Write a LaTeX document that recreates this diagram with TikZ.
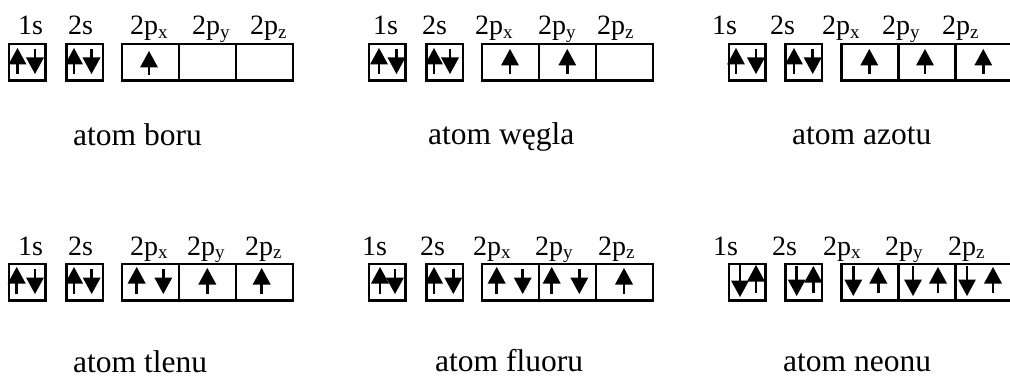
\documentclass[tikz,border=0pt]{standalone}
\usepackage{fontspec}
\setmainfont{Liberation Serif}
\newcommand\sub[1]{\raisebox{-0.25ex}{\fontsize{19}{19}\selectfont #1}}
% up arrow: x, apex y, tail y
\newcommand\arrup[3]{%
  \fill (#1-1.3,#2+10) rectangle (#1+1.3,#3);
  \fill (#1,#2) -- (#1+9,#2+16.5) -- (#1-9,#2+16.5) -- cycle;}
% down arrow: x, tail y, apex y
\newcommand\arrdn[3]{%
  \fill (#1-1.3,#2) rectangle (#1+1.3,#3-10);
  \fill (#1,#3) -- (#1+9,#3-16.5) -- (#1-9,#3-16.5) -- cycle;}
\begin{document}
\begin{tikzpicture}[x=1pt,y=-1pt,
  orb/.style={draw,line width=2.5pt,inner sep=0pt,minimum height=36.5pt},
  sorb/.style={orb,minimum width=36.5pt},
  porb/.style={orb,minimum width=57pt},
  lab/.style={inner sep=0pt,anchor=base west,font=\fontsize{28}{28}\selectfont},
  atomlab/.style={inner sep=0pt,anchor=base west,text depth=0pt,font=\fontsize{31.5}{31.5}\selectfont}]
\path[use as bounding box] (0,0) rectangle (1010,377);
\clip (0,0) rectangle (1010,377);

% ---------- row 1 ----------
% boron
\node[lab] (b1) at (18,35) {1s};
\node[lab] (b2) at (68,35) {2s};
\node[lab] (b3) at (130,35) {2p\sub{x}};
\node[lab] (b4) at (192,35) {2p\sub{y}};
\node[lab] (b5) at (250,35) {2p\sub{z}};
\node[sorb] (B1s) at (27.3,62.5) {};
\node[sorb] (B2s) at (84.5,62.5) {};
\node[porb] (Bpx) at (150.5,62.5) {};
\node[porb] (Bpy) at (207.5,62.5) {};
\node[porb] (Bpz) at (264.5,62.5) {};
\arrup{17.5}{48}{74}\arrdn{35}{49}{74}
\arrup{74}{48}{74}\arrdn{91.5}{49}{74}
\arrup{149}{51}{75}
\node[atomlab] (bn) at (73,146) {atom boru};

% carbon
\node[lab] (c1) at (373,35) {1s};
\node[lab] (c2) at (422,35) {2s};
\node[lab] (c3) at (475,35) {2p\sub{x}};
\node[lab] (c4) at (538,35) {2p\sub{y}};
\node[lab] (c5) at (597,35) {2p\sub{z}};
\node[sorb] (C1s) at (387.2,62.5) {};
\node[sorb] (C2s) at (444.5,62.5) {};
\node[porb] (Cpx) at (510.3,62.5) {};
\node[porb] (Cpy) at (567.5,62.5) {};
\node[porb] (Cpz) at (624.5,62.5) {};
\arrup{379}{48}{74}\arrdn{396.5}{49}{74}
\arrup{434}{48}{74}\arrdn{450}{49}{74}
\arrup{510}{49}{74}
\arrup{567.3}{49}{74}
\node[atomlab] (cn) at (428,145) {atom węgla};

% nitrogen
\node[lab] (n1) at (712,35) {1s};
\node[lab] (n2) at (770,35) {2s};
\node[lab] (n3) at (822,35) {2p\sub{x}};
\node[lab] (n4) at (882,35) {2p\sub{y}};
\node[lab] (n5) at (942,35) {2p\sub{z}};
\node[sorb] (N1s) at (747,62.5) {};
\node[sorb] (N2s) at (803.8,62.5) {};
\node[porb] (Npx) at (870.1,62.5) {};
\node[porb] (Npy) at (927.1,62.5) {};
\node[porb] (Npz) at (984.3,62.5) {};
\arrup{736}{48}{74}\arrdn{756}{49}{74}
\arrup{794}{48}{74}\arrdn{812.7}{49}{74}
\arrup{869.3}{49}{74}
\arrup{925}{49}{74}
\arrup{983.3}{49}{74}
\node[atomlab] (nn) at (792,145) {atom azotu};

% ---------- row 2 ----------
% oxygen
\node[lab] (o1) at (18,255) {1s};
\node[lab] (o2) at (68,255) {2s};
\node[lab] (o3) at (130,255) {2p\sub{x}};
\node[lab] (o4) at (187,255) {2p\sub{y}};
\node[lab] (o5) at (245,255) {2p\sub{z}};
\node[sorb] (O1s) at (27.3,282.2) {};
\node[sorb] (O2s) at (84.5,282.2) {};
\node[porb] (Opx) at (150.5,282.2) {};
\node[porb] (Opy) at (207.5,282.2) {};
\node[porb] (Opz) at (264.5,282.2) {};
\arrup{16.7}{267}{294}\arrdn{35}{269}{294}
\arrup{74}{267}{294}\arrdn{91.7}{269}{294}
\arrup{136.7}{267}{294}\arrdn{163.3}{269}{294}
\arrup{207.3}{268}{294}
\arrup{261.7}{268}{294}
\node[atomlab] (on) at (73,372) {atom tlenu};

% fluorine
\node[lab] (f1) at (362,255) {1s};
\node[lab] (f2) at (420,255) {2s};
\node[lab] (f3) at (473,255) {2p\sub{x}};
\node[lab] (f4) at (535,255) {2p\sub{y}};
\node[lab] (f5) at (598,255) {2p\sub{z}};
\node[sorb] (F1s) at (387.2,282.2) {};
\node[sorb] (F2s) at (444.5,282.2) {};
\node[porb] (Fpx) at (510.3,282.2) {};
\node[porb] (Fpy) at (567.5,282.2) {};
\node[porb] (Fpz) at (624.5,282.2) {};
\arrup{380}{267}{294}\arrdn{395}{269}{294}
\arrup{434}{267}{294}\arrdn{453.3}{269}{294}
\arrup{496.7}{267}{294}\arrdn{522.7}{269}{294}
\arrup{551.7}{267}{294}\arrdn{579.3}{269}{294}
\arrup{624}{268}{294}
\node[atomlab] (fn) at (435,371) {atom fluoru};

% neon
\node[lab] (e1) at (713,255) {1s};
\node[lab] (e2) at (772,255) {2s};
\node[lab] (e3) at (823,255) {2p\sub{x}};
\node[lab] (e4) at (885,255) {2p\sub{y}};
\node[lab] (e5) at (948,255) {2p\sub{z}};
\node[sorb] (E1s) at (747,282.2) {};
\node[sorb] (E2s) at (803.8,282.2) {};
\node[porb] (Epx) at (870.1,282.2) {};
\node[porb] (Epy) at (927.1,282.2) {};
\node[porb] (Epz) at (984.3,282.2) {};
\arrdn{740}{265}{297}\arrup{756}{265}{293}
\arrdn{796.7}{266}{296}\arrup{813.3}{266}{293}
\arrdn{853.3}{266}{296}\arrup{878.3}{267}{293}
\arrdn{913}{266}{296}\arrup{938}{267}{293}
\arrdn{967}{266}{296}\arrup{993}{267}{293}
\node[atomlab] (en) at (783,371) {atom neonu};
\end{tikzpicture}
\end{document}
